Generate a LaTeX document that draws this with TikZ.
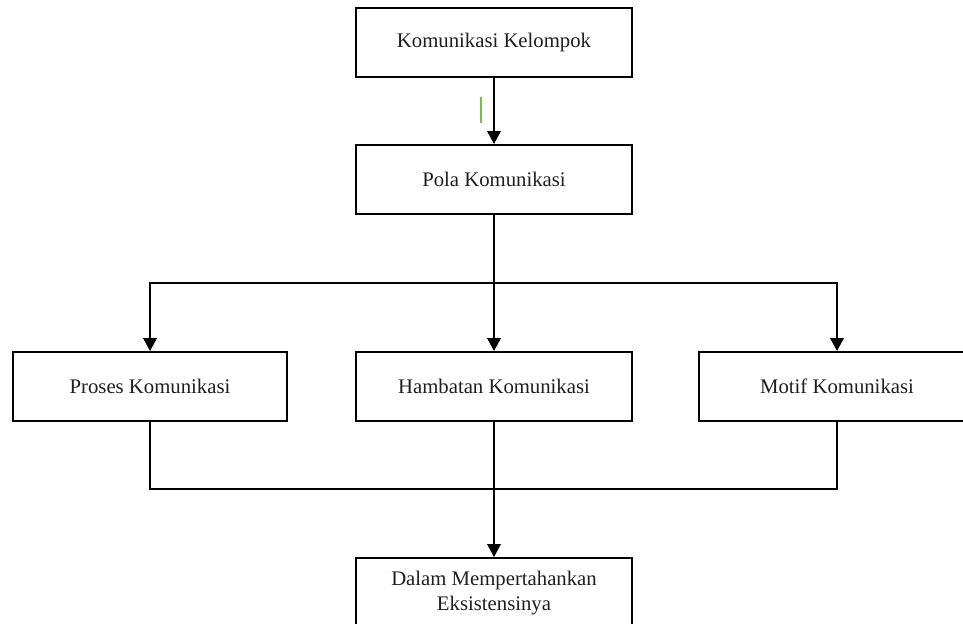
\documentclass[tikz,border=0pt]{standalone}
\usepackage{fontspec}
\setmainfont{Liberation Serif}
\usepackage{xcolor}
\usetikzlibrary{arrows.meta,positioning}
\definecolor{cursorgreen}{RGB}{118,190,78}
\definecolor{teks}{RGB}{30,30,30}

\begin{document}
\begin{tikzpicture}[x=0.02cm,y=-0.02cm,font=\fontsize{11.8}{13.8}\selectfont,>={Triangle[length=0.26cm,width=0.27cm]},
box/.style={draw,line width=1.1pt,align=center,text=teks,minimum width=5.52cm,minimum height=1.38cm,inner sep=2pt},
link/.style={line width=1.1pt}]
\useasboundingbox (0,0) rectangle (963,624);
\node[box] (kelompok) at (494,42.5) {Komunikasi Kelompok};
\node[box] (pola) at (494,179.5) {Pola Komunikasi};
\node[box,minimum width=5.48cm] (proses) at (150,386.5) {Proses Komunikasi};
\node[box] (hambatan) at (494,386.5) {Hambatan Komunikasi};
\node[box] (motif) at (837,386.5) {Motif Komunikasi};
\node[box,minimum height=1.4cm] (eksis) at (494,593) {Dalam Mempertahankan\\Eksistensinya};
\coordinate (cabang) at (494,283);
\coordinate (gabung) at (494,489);
% alur atas
\draw[link,->] (kelompok) -- (pola);
\draw[link] (pola) -- (cabang);
\draw[link,->] (cabang) -| (proses);
\draw[link,->] (cabang) -- (hambatan);
\draw[link,->] (cabang) -| (motif);
% alur bawah
\draw[link] (proses) |- (gabung);
\draw[link] (motif) |- (gabung);
\draw[link,->] (hambatan) -- (eksis);
\coordinate (kursor) at (481,97);
\draw[cursorgreen,line width=0.8pt] (kursor) -- ++(0,26);
\end{tikzpicture}
\end{document}
